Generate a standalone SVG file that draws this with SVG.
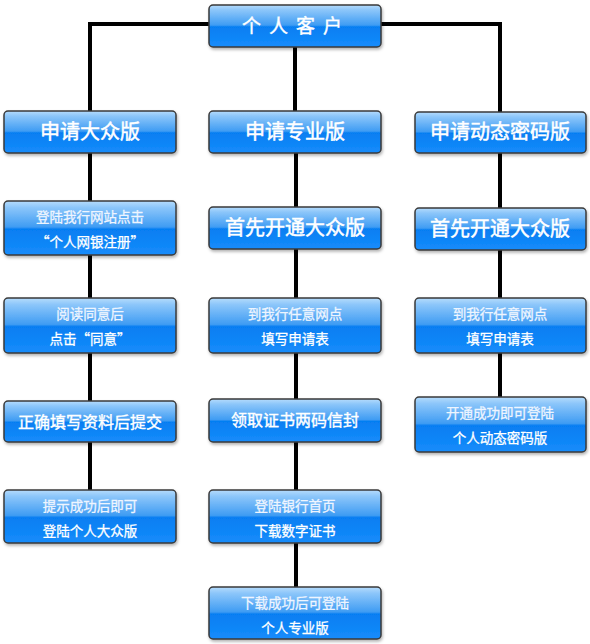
<svg xmlns="http://www.w3.org/2000/svg" width="590" height="644" viewBox="0 0 590 644">
<defs>
<linearGradient id="g" x1="0" y1="0" x2="0" y2="1">
<stop offset="0" stop-color="#b6dcfc"/>
<stop offset="0.12" stop-color="#8cc6fa"/>
<stop offset="0.48" stop-color="#3f9cf3"/>
<stop offset="0.52" stop-color="#067ef2"/>
<stop offset="1" stop-color="#168cfb"/>
</linearGradient>
<filter id="sh" x="-10%" y="-20%" width="120%" height="150%">
<feDropShadow dx="1" dy="2" stdDeviation="1.5" flood-color="#000" flood-opacity="0.3"/>
</filter>
</defs>
<style>
rect.b{fill:url(#g);stroke:#3a3a3a;stroke-width:1.5;filter:url(#sh)}
.c{fill:none;stroke:#000;stroke-width:4}
text{fill:#fff;font-family:"Noto Sans CJK SC","Liberation Sans",sans-serif;text-anchor:middle;stroke:#fff;stroke-width:0.3}
.L{font-size:20px;stroke-width:0.5}
.M{font-size:16px;stroke-width:0.4}
.S{font-size:13.5px}
.t1{fill:#eef5ff;stroke:#eef5ff}
</style>
<rect width="590" height="644" fill="#fff"/>
<g id="connectors">
<path class="c" d="M90 111V24H209M381 24H500V112"/>
<path class="c" d="M295 47V111"/>
<path class="c" d="M90 153V201M90 255V298M90 353V401M90 442V490"/>
<path class="c" d="M296 153V207M296 249V298M296 353V399M296 442V490M296 543V587"/>
<path class="c" d="M500 153V208M500 250V298M500 353V397"/>
</g>
<g id="n0"><rect class="b" x="209" y="5" width="172" height="42" rx="4"/><text x="296" y="33" style="font-size:19px;letter-spacing:8px;stroke-width:0.4">个人客户</text></g>
<g id="n1"><rect class="b" x="4" y="111" width="172" height="42" rx="4"/><text class="L" x="90" y="139">申请大众版</text></g>
<g id="n2"><rect class="b" x="209" y="111" width="172" height="42" rx="4"/><text class="L" x="295" y="139">申请专业版</text></g>
<g id="n3"><rect class="b" x="415" y="112" width="171" height="41" rx="4"/><text class="L" x="500" y="139">申请动态密码版</text></g>
<g id="n4"><rect class="b" x="4" y="201" width="172" height="54" rx="4"/><text class="S t1" x="90" y="222">登陆我行网站点击</text><text class="S" x="90" y="247">“个人网银注册”</text></g>
<g id="n5"><rect class="b" x="209" y="207" width="172" height="42" rx="4"/><text class="L" x="295" y="235">首先开通大众版</text></g>
<g id="n6"><rect class="b" x="415" y="208" width="171" height="42" rx="4"/><text class="L" x="500" y="236">首先开通大众版</text></g>
<g id="n7"><rect class="b" x="4" y="298" width="172" height="55" rx="4"/><text class="S t1" x="90" y="319">阅读同意后</text><text class="S" x="90" y="344">点击“同意”</text></g>
<g id="n8"><rect class="b" x="209" y="298" width="172" height="55" rx="4"/><text class="S t1" x="295" y="319">到我行任意网点</text><text class="S" x="295" y="344">填写申请表</text></g>
<g id="n9"><rect class="b" x="415" y="298" width="171" height="55" rx="4"/><text class="S t1" x="500" y="319">到我行任意网点</text><text class="S" x="500" y="344">填写申请表</text></g>
<g id="n10"><rect class="b" x="4" y="401" width="172" height="41" rx="4"/><text class="M" x="90" y="428">正确填写资料后提交</text></g>
<g id="n11"><rect class="b" x="209" y="399" width="172" height="43" rx="4"/><text class="M" x="295" y="426">领取证书两码信封</text></g>
<g id="n12"><rect class="b" x="415" y="397" width="171" height="55" rx="4"/><text class="S t1" x="500" y="418">开通成功即可登陆</text><text class="S" x="500" y="443">个人动态密码版</text></g>
<g id="n13"><rect class="b" x="4" y="490" width="172" height="53" rx="4"/><text class="S t1" x="90" y="511">提示成功后即可</text><text class="S" x="90" y="536">登陆个人大众版</text></g>
<g id="n14"><rect class="b" x="209" y="490" width="172" height="53" rx="4"/><text class="S t1" x="295" y="511">登陆银行首页</text><text class="S" x="295" y="536">下载数字证书</text></g>
<g id="n15"><rect class="b" x="209" y="587" width="172" height="52" rx="4"/><text class="S t1" x="295" y="608">下载成功后可登陆</text><text class="S" x="295" y="633">个人专业版</text></g>
</svg>
